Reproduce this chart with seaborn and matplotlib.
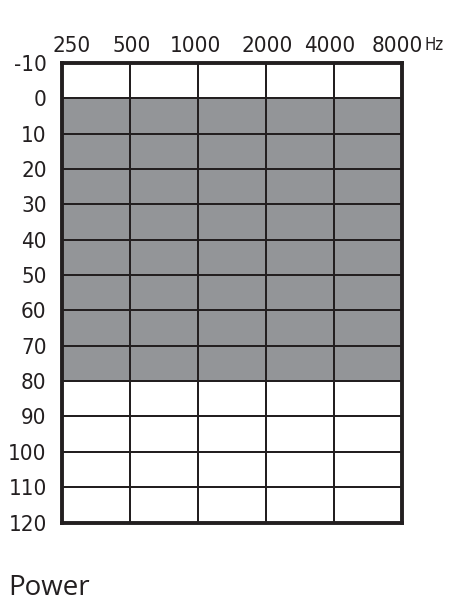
import numpy as np
import pandas as pd
import seaborn as sns
import matplotlib.pyplot as plt
from matplotlib.colors import ListedColormap
from matplotlib.transforms import ScaledTranslation
from matplotlib import font_manager

# ------- Data -------
frequencies = [250, 500, 1000, 2000, 4000, 8000]
hearing_levels = [-10, 0, 10, 20, 30, 40, 50, 60, 70, 80, 90, 100, 110, 120]
fitting_range = (0, 80)   # dB HL covered by the "Power" model
model_name = "Power"

# one cell per 10 dB band and per octave band
bands = hearing_levels[:-1]
cells = pd.DataFrame(
    [[1 if fitting_range[0] <= lv < fitting_range[1] else 0 for _ in frequencies[:-1]] for lv in bands],
    index=bands, columns=frequencies[:-1])

# ------- Plot -------
sns.set_style("white")
names = {f.name for f in font_manager.fontManager.ttflist}
narrow = [n for n in ['Liberation Sans Narrow', 'DejaVu Sans Condensed'] if n in names]
plt.rcParams['font.family'] = narrow + ['DejaVu Sans']
if not narrow:
    plt.rcParams['font.stretch'] = 'condensed'

fig = plt.figure(figsize=(4.55, 6.09), dpi=100)
ax = fig.add_axes([0.1363, 0.142, 0.7473, 0.7545])

sns.heatmap(cells, ax=ax, cmap=ListedColormap(['white', '#939598']), cbar=False,
            linewidths=1.2, linecolor='#231f20', vmin=0, vmax=1)

ax.xaxis.tick_top()
ax.set_xticks(np.arange(len(frequencies)))
ax.set_xticklabels(frequencies, fontsize=16, color='#231f20')
ax.set_yticks(np.arange(len(hearing_levels)))
ax.set_yticklabels(hearing_levels, fontsize=16, color='#231f20', rotation=0)
ax.tick_params(axis='x', length=0, pad=5)
ax.tick_params(axis='y', length=0, pad=11)
ax.set_xlabel("")
ax.set_ylabel("")

# nudge the end labels inward like the printed chart
shifts = [10, 2, -3, 1, -4, -5]
for lab, dx in zip(ax.get_xticklabels(), shifts):
    lab.set_transform(lab.get_transform() + ScaledTranslation(dx / 100, 0, fig.dpi_scale_trans))
for lab in ax.get_yticklabels():
    lab.set_transform(lab.get_transform() + ScaledTranslation(0, -2 / 100, fig.dpi_scale_trans))

for s in ax.spines.values():
    s.set_visible(True)
    s.set_linewidth(2.8)
    s.set_color('#231f20')

fig.text(424 / 455, 1 - 45 / 609, "Hz", fontsize=12, color='#231f20', ha='left', va='center')

fig.text(0.018, 0.012, model_name, fontsize=20, color='#231f20',
         family=['Open Sans', 'DejaVu Sans'], stretch='normal', ha='left', va='bottom')

fig.savefig("out.png", dpi=100)
